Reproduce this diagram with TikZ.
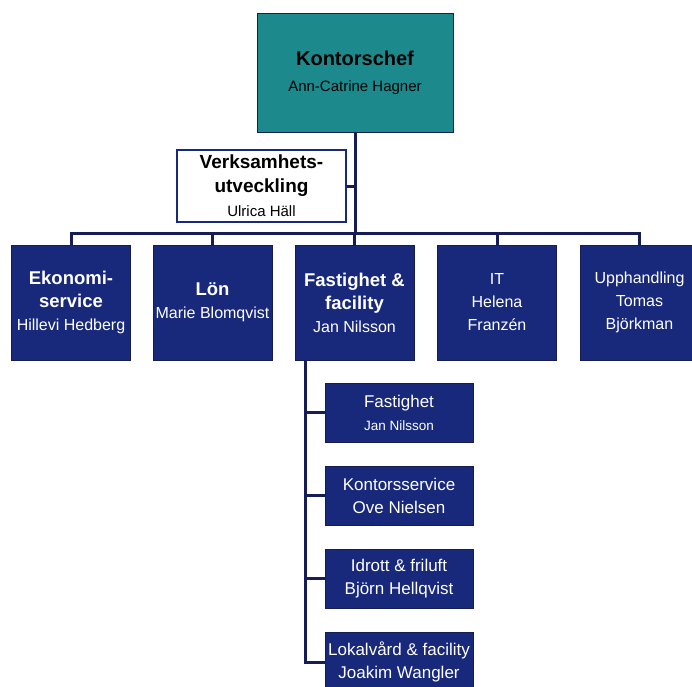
\documentclass[tikz,border=0pt]{standalone}
\usepackage{fontspec}
\setmainfont{Liberation Sans}
\definecolor{navy}{RGB}{24,40,122}
\definecolor{tealbox}{RGB}{28,138,140}
\definecolor{linec}{RGB}{22,28,84}
\newcommand{\bt}[1]{{\bfseries\fontsize{18.5}{23}\selectfont #1}}
\newcommand{\rt}[1]{{\fontsize{16}{23}\selectfont #1}}
\begin{document}
\begin{tikzpicture}[x=1pt,y=-1pt,
  conn/.style={draw=linec, line width=3pt},
  navybox/.style={draw=linec, line width=1pt, fill=navy, text=white, align=center,
    inner sep=0pt, minimum width=119pt, minimum height=115pt, font=\fontsize{16}{23}\selectfont},
  subbox/.style={navybox, minimum width=148pt, minimum height=59pt},
  chefbox/.style={draw=linec, line width=1pt, fill=tealbox, text=black, align=center,
    inner sep=0pt, minimum width=196pt, minimum height=119pt, font=\fontsize{15}{26}\selectfont},
  staffbox/.style={draw=navy, line width=1.5pt, fill=white, text=black, align=center,
    inner sep=0pt, minimum width=169pt, minimum height=72pt, font=\fontsize{15}{24}\selectfont}]
\useasboundingbox (0,0) rectangle (692,686);
\fill[white] (0,0) rectangle (692,686);
\clip (0,0) rectangle (692,686);

\node[chefbox] (chef) at (355,72.5)
  {{\bfseries\fontsize{20}{26}\selectfont Kontorschef}\\Ann-Catrine Hagner};
\node[staffbox] (verk) at (261.5,186)
  {{\bfseries\fontsize{19}{24}\selectfont Verksamhets-}\\{\bfseries\fontsize{19}{24}\selectfont utveckling}\\Ulrica Häll};

\node[navybox] (ekon) at (71,302.5) {\bt{Ekonomi-}\\\bt{service}\\\rt{Hillevi Hedberg}};
\node[navybox] (lon) at (212.5,302.5) {\bt{Lön}\\\rt{Marie Blomqvist}};
\node[navybox] (fast) at (354.5,302.5) {\bt{Fastighet \&}\\\bt{facility}\\\rt{Jan Nilsson}};
\node[navybox] (it) at (497,302.5) {\rt{IT}\\\rt{Helena}\\\rt{Franzén}};
\node[navybox] (upph) at (639.5,302.5) {\rt{Upphandling}\\\rt{Tomas}\\\rt{Björkman}};

\node[subbox] (s1) at (399,412.5) {{\fontsize{17}{22}\selectfont Fastighet}\\{\fontsize{13.5}{22}\selectfont Jan Nilsson}};
\node[subbox] (s2) at (399,495.5) {{\fontsize{17}{24}\selectfont Kontorsservice}\\{\fontsize{17}{24}\selectfont Ove Nielsen}};
\node[subbox] (s3) at (399,578.5) {{\fontsize{17}{24}\selectfont Idrott \& friluft}\\{\fontsize{17}{24}\selectfont Björn Hellqvist}};
\node[subbox] (s4) at (399,662) {{\fontsize{17}{24}\selectfont Lokalvård \& facility}\\{\fontsize{17}{24}\selectfont Joakim Wangler}};

\coordinate (bar) at (355,233);
\coordinate (spine) at (305,360);

\draw[conn] (chef.south) -- (bar);
\draw[conn] (verk.east) -- (verk.east -| chef.south);
\draw[conn] (ekon.north) -- (ekon.north |- bar) -- (upph.north |- bar) -- (upph.north);
\draw[conn] (lon.north) -- (lon.north |- bar);
\draw[conn] (fast.north) -- (fast.north |- bar);
\draw[conn] (it.north) -- (it.north |- bar);
\draw[conn] (spine) -- (spine |- s4.west) -- (s4.west);
\draw[conn] (s1.west) -- (s1.west -| spine);
\draw[conn] (s2.west) -- (s2.west -| spine);
\draw[conn] (s3.west) -- (s3.west -| spine);
\end{tikzpicture}
\end{document}
